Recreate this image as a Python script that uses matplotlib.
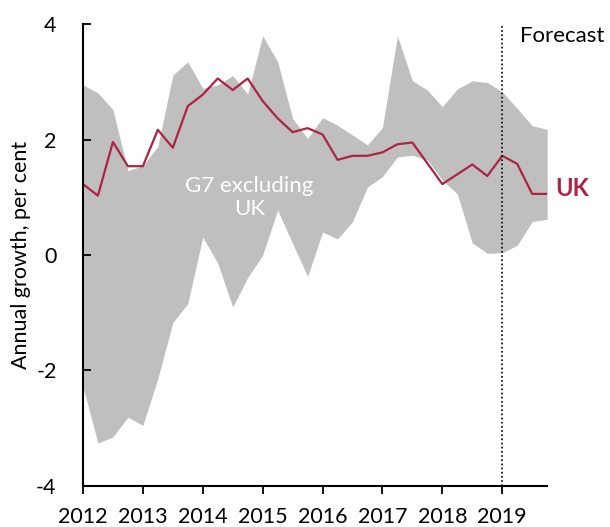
import numpy as np
import matplotlib
matplotlib.use("Agg")
from matplotlib import pyplot

pyplot.rcParams['font.family'] = ['Lato', 'DejaVu Sans']

# quarterly, 2012 Q1 .. 2019 Q4
quarters = [2012 + 0.25 * i for i in range(32)]

uk = [1.23, 1.03, 1.96, 1.54, 1.54, 2.17, 1.86, 2.58,
      2.78, 3.06, 2.86, 3.06, 2.67, 2.37, 2.13, 2.20,
      2.09, 1.65, 1.72, 1.72, 1.78, 1.92, 1.95, 1.59,
      1.23, 1.40, 1.57, 1.37, 1.72, 1.58, 1.06, 1.06]

g7_high = [2.95, 2.81, 2.52, 1.46, 1.55, 1.88, 3.12, 3.35,
           2.89, 2.95, 3.11, 2.79, 3.80, 3.35, 2.37, 2.02,
           2.38, 2.25, 2.08, 1.91, 2.21, 3.80, 3.02, 2.86,
           2.57, 2.88, 3.02, 2.99, 2.83, 2.54, 2.24, 2.18]

g7_low = [-2.28, -3.26, -3.15, -2.81, -2.95, -2.14, -1.17, -0.84,
          0.31, -0.14, -0.90, -0.39, 0.00, 0.78, 0.20, -0.37,
          0.40, 0.28, 0.58, 1.18, 1.36, 1.70, 1.73, 1.65,
          1.30, 1.06, 0.21, 0.03, 0.04, 0.17, 0.58, 0.62]

years = list(range(2012, 2020))
forecast_start = 2019

UK_RED = "#AE2342"
GREY = "#BFBFBF"

fig = pyplot.figure(figsize=(6.10, 5.27), dpi=100)
ax = fig.add_axes([0.136, 0.078, 0.761, 0.876])

ax.fill_between(quarters, g7_low, g7_high, color=GREY, linewidth=0)
ax.plot(quarters, uk, color=UK_RED, linewidth=1.6)
ax.axvline(forecast_start, color="black", linestyle=(0, (1, 1.5)), linewidth=1.2)

ax.set_xlim(quarters[0], quarters[-1])
ax.set_ylim(-4, 4)
ax.set_xticks(years)
ax.set_yticks([-4, -2, 0, 2, 4])
ax.set_yticklabels(["-4", "-2", "0", "2", "4"])
ax.spines['top'].set_visible(False)
ax.spines['right'].set_visible(False)
ax.spines['left'].set_linewidth(1.5)
ax.spines['bottom'].set_linewidth(1.5)
ax.tick_params(axis='x', direction='out', length=6, width=1.3, labelsize=15.5, pad=9)
ax.tick_params(axis='y', direction='in', length=6, width=1.3, labelsize=15.5, pad=19)
ax.set_ylabel("Annual growth, per cent", fontsize=15.5, labelpad=4)

ax.text(2014.78, 1.0, "G7 excluding\nUK", color="white", fontsize=16,
        ha="center", va="center", linespacing=1.2)
ax.text(quarters[-1] + 0.13, uk[-1] + 0.1, "UK", color=UK_RED, fontsize=17,
        fontweight="bold", ha="left", va="center", clip_on=False)
ax.text(forecast_start + 0.29, 3.8, "Forecast", color="black", fontsize=16,
        ha="left", va="center", clip_on=False)

pyplot.savefig("out.png", dpi=100)
